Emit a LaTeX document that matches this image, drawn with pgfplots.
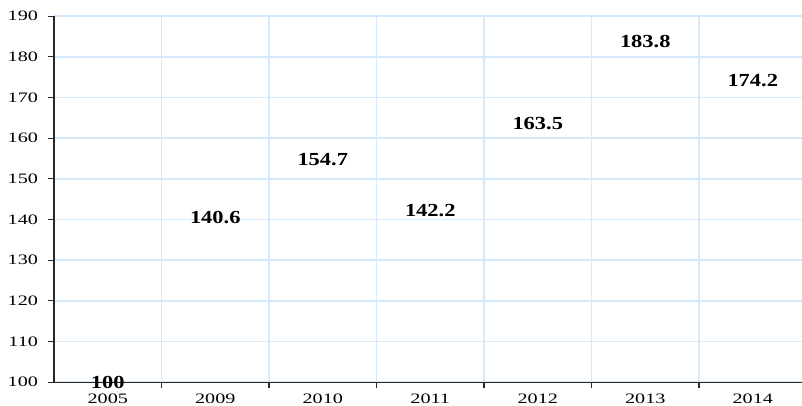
\documentclass[border=0pt]{standalone}
\usepackage{fontspec}
\setmainfont{Liberation Serif}
\newfontfamily\tickfont[FakeStretch=1.4]{Liberation Serif}
\newfontfamily\lblfont[FakeStretch=1.22]{Liberation Serif}
\usepackage{pgfplots}
\pgfplotsset{compat=1.18}
\definecolor{gridblue}{RGB}{214,233,250}
\definecolor{axisgray}{RGB}{40,40,40}

\begin{document}
\begin{tikzpicture}
% 1px = 0.75pt, picture 802x406
\useasboundingbox (0,0) rectangle (601.5pt,304.5pt);
\begin{axis}[
  at={(40.5pt,17.8pt)}, anchor=south west,
  scale only axis, width=561pt, height=274.5pt,
  xmin=-0.5, xmax=6.458, ymin=100, ymax=190,
  axis lines*=left,
  axis line style={axisgray, line width=0.8pt},
  ytick={100,110,...,190},
  % category boundaries: tick marks and vertical grid
  xtick={0.5,1.5,2.5,3.5,4.5,5.5},
  xticklabels={},
  xmajorgrids, ymajorgrids,
  % category names at the centres
  extra x ticks={0,...,6},
  extra x tick labels={2005,2009,2010,2011,2012,2013,2014},
  extra x tick style={grid=none, major tick length=0pt},
  grid style={gridblue, line width=1.3pt},
  tick style={axisgray, line width=0.8pt},
  tick align=outside, major tick length=4.5pt,
  /pgf/number format/assume math mode=true,
  tick label style={font=\tickfont\fontsize{10.8}{12}\selectfont, black},
  yticklabel style={xshift=-4pt},
  xticklabel style={yshift=-5pt},
  clip=false,
]
\addplot[only marks, mark=none,
  nodes near coords, point meta=explicit symbolic,
  every node near coord/.style={anchor=center, black,
    font=\lblfont\bfseries\fontsize{13.8}{15}\selectfont}]
  coordinates {
    (0,100) [100]
    (1,140.6) [140.6]
    (2,154.7) [154.7]
    (3,142.2) [142.2]
    (4,163.5) [163.5]
    (5,183.8) [183.8]
    (6,174.2) [174.2]
  };
\end{axis}
\end{tikzpicture}
\end{document}
